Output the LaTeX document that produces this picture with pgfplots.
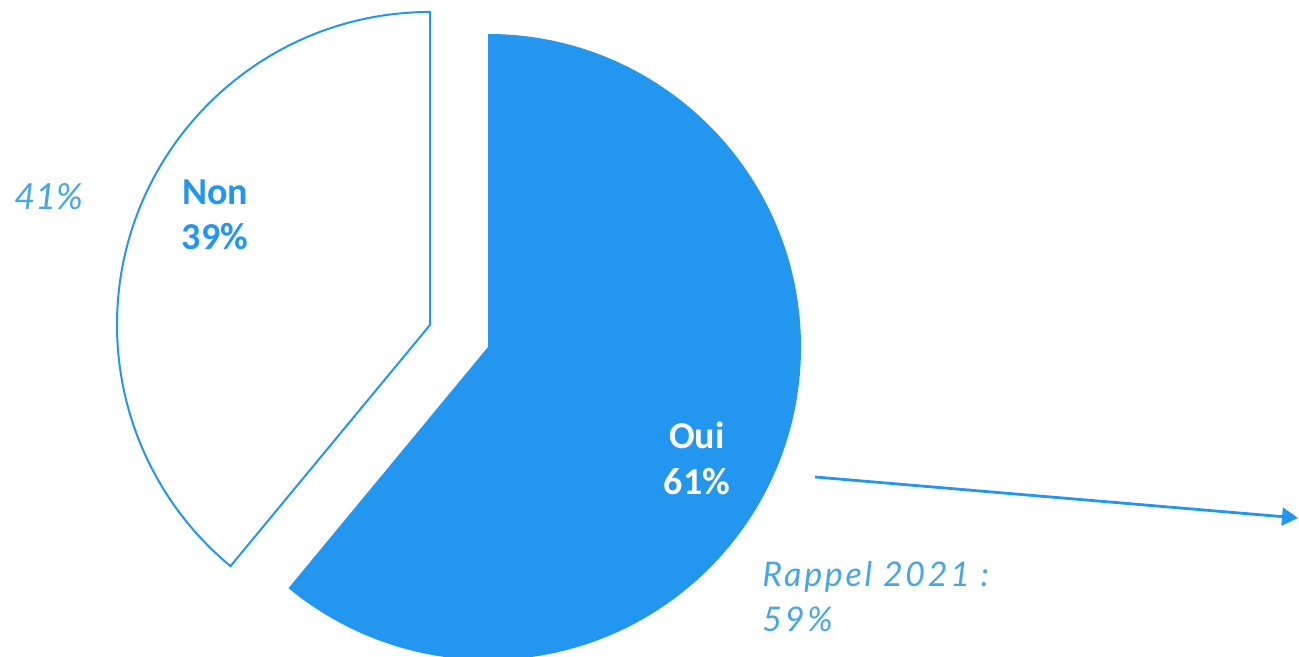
\documentclass[border=0pt]{standalone}
\usepackage{pgfplots}
\pgfplotsset{compat=1.18}
\usetikzlibrary{arrows.meta}
\usepackage{fontspec}
\setmainfont{Carlito}
\newfontfamily\latofont{Lato}
\newfontfamily\latospaced[LetterSpace=8]{Lato}

\definecolor{oui}{RGB}{35,150,240}
\definecolor{lite}{RGB}{70,165,235}

% shares (%)
\def\oui{61}
\def\non{39}

\begin{document}
\begin{tikzpicture}
\pgfmathsetmacro\endang{90-3.6*\oui}
\pgfmathsetmacro\nonend{90+3.6*\non}
\begin{axis}[
    scale only axis,
    width=649.5pt, height=328.5pt,
    xmin=0, xmax=1299, ymin=0, ymax=657,
    hide axis,
]
% keeps the whole canvas in the picture
\addplot[draw=none] coordinates {(0,0) (1299,657)};
% Oui slice
\fill[oui] (axis cs:488,310) -- ++(90:156.5pt)
    arc[start angle=90, end angle=\endang, radius=156.5pt] -- cycle;
% Non slice (exploded)
\draw[oui, line width=1pt, fill=white] (axis cs:430,332) -- ++(90:156.5pt)
    arc[start angle=90, end angle=\nonend, radius=156.5pt] -- cycle;
% arrow
\draw[oui, line width=1.4pt, -{Triangle[length=8pt,width=9pt]}]
    (axis cs:815,180) -- (axis cs:1298,139);
% labels
\node[anchor=base, text=oui, font=\bfseries\fontsize{19}{22}\selectfont]
    at (axis cs:215,452) {Non};
\node[anchor=base, text=oui, font=\bfseries\fontsize{19}{22}\selectfont]
    at (axis cs:215,407) {\non\%};
\node[anchor=base, text=white, font=\bfseries\fontsize{19}{22}\selectfont]
    at (axis cs:697,208) {Oui};
\node[anchor=base, text=white, font=\bfseries\fontsize{19}{22}\selectfont]
    at (axis cs:697,162) {\oui\%};
\node[anchor=base west, inner sep=0pt, text=lite, font=\latofont\itshape\fontsize{18}{22}\selectfont]
    at (axis cs:14,447) {41\%};
\node[anchor=base west, inner sep=0pt, text=lite, font=\latospaced\itshape\fontsize{17}{22}\selectfont]
    at (axis cs:762,70) {Rappel 2021 :};
\node[anchor=base west, inner sep=0pt, text=lite, font=\latospaced\itshape\fontsize{17}{22}\selectfont]
    at (axis cs:762,25) {59\%};
\end{axis}
\end{tikzpicture}
\end{document}
